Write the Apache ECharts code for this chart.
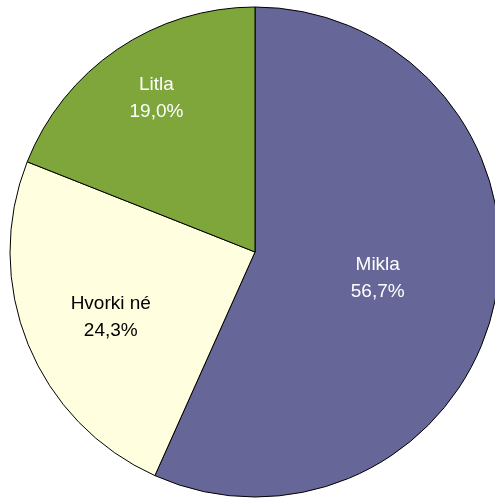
<!DOCTYPE html>
<html><head><meta charset="utf-8">
<script src="https://cdn.jsdelivr.net/npm/echarts@6/dist/echarts.min.js"></script>
<style>html,body{margin:0;padding:0;background:#fff}#c{width:495px;height:500px}</style>
</head><body><div id="c"></div>
<script>
const categories = ['Mikla', 'Hvorki né', 'Litla'];
const values = [56.7, 24.3, 19.0];
const colors = ['#666699', '#FFFFE0', '#7EA63A'];
const labelColors = ['#ffffff', '#000000', '#ffffff'];
const labelOffsets = [[0, 0], [-28, 18], [-28, -50]];
const chart = echarts.init(document.getElementById('c'));
chart.setOption({
  animation: false,
  series: [{
    type: 'pie',
    center: [255, 252],
    radius: [0, 245],
    startAngle: 90,
    clockwise: true,
    data: categories.map((n, i) => ({
      name: n, value: values[i],
      itemStyle: { color: colors[i] },
      label: { color: labelColors[i], offset: labelOffsets[i] }
    })),
    itemStyle: { borderColor: '#000', borderWidth: 1 },
    label: {
      show: true, position: 'inside',
      fontFamily: '"Liberation Sans", Arial, sans-serif',
      fontSize: 19, lineHeight: 27,
      formatter: p => p.name + '\n' + p.value.toFixed(1).replace('.', ',') + '%'
    },
    labelLine: { show: false }
  }]
});
</script></body></html>
